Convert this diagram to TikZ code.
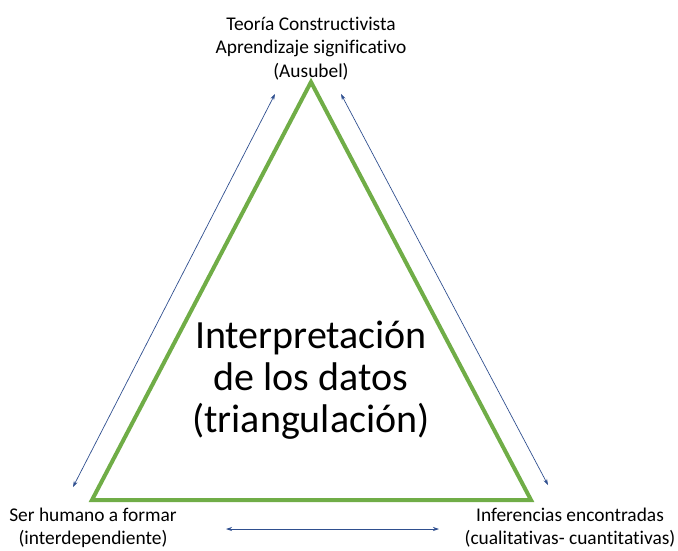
\documentclass[tikz,border=0pt]{standalone}
\usepackage{fontspec}
\setmainfont{Carlito}[Ligatures={NoCommon}]
\usetikzlibrary{arrows.meta}
\definecolor{tgreen}{HTML}{70AD47}
\definecolor{arrblue}{HTML}{2F4F8F}
\begin{document}
\begin{tikzpicture}[x=1pt,y=-1pt,
  lbl/.style={align=center,font=\fontsize{19.4}{23.5}\selectfont,inner sep=0pt,anchor=base},
  big/.style={align=center,font=\fontsize{40}{42}\selectfont,inner sep=0pt,anchor=base},
  dbl/.style={draw=arrblue,line width=0.7pt,{Stealth[length=6pt,width=4pt]}-{Stealth[length=6pt,width=4pt]}}]
\useasboundingbox (0,0) rectangle (678,550);
% triangle
\coordinate (A) at (311,82);
\coordinate (B) at (92,500);
\coordinate (C) at (531,500);
\draw[tgreen,line width=4pt,line join=miter] (A) -- (B) -- (C) -- cycle;
% labels (anchor = baseline of the last line)
\node[lbl] (top) at (311,77) {Teoría Constructivista\\Aprendizaje significativo\\(Ausubel)};
\node[lbl] (left) at (93,544.5) {Ser humano a formar\\(interdependiente)};
\node[lbl] (right) at (570,544.5) {Inferencias encontradas\\(cualitativas- cuantitativas)};
\node[big] (center) at (311,432) {Interpretación\\de los datos\\(triangulación)};
% arrows
\coordinate (l1) at (275,94);
\coordinate (l2) at (73,487);
\coordinate (r1) at (341,94);
\coordinate (r2) at (548,485);
\coordinate (b1) at (226,529);
\coordinate (b2) at (439,529);
\draw[dbl] (l2) -- (l1);
\draw[dbl] (r1) -- (r2);
\draw[dbl] (b1) -- (b2);
\end{tikzpicture}
\end{document}
